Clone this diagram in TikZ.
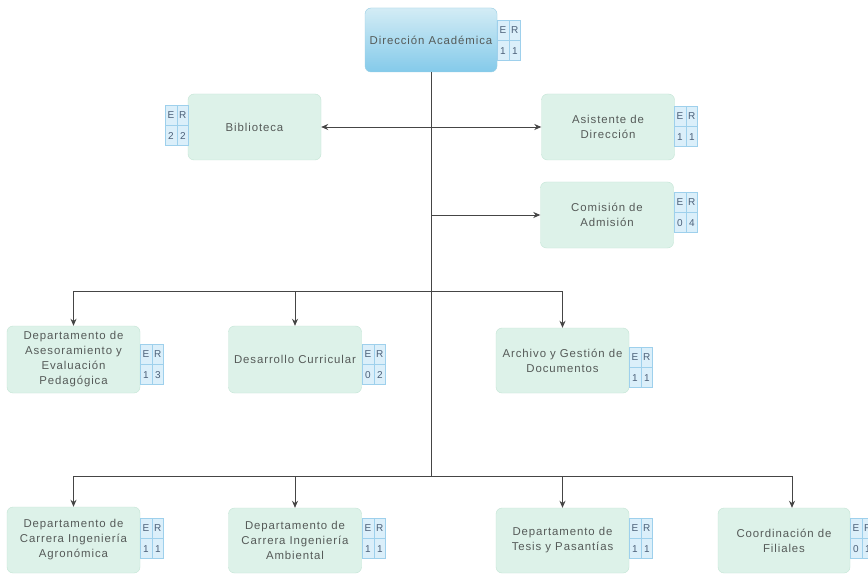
\documentclass[tikz,border=0pt]{standalone}
\usepackage{fontspec}
\setmainfont{Liberation Sans}
\usepackage{tikz}
\usetikzlibrary{arrows.meta}

\definecolor{boxfill}{HTML}{DDF2E9}
\definecolor{boxline}{HTML}{C3E5D5}
\definecolor{headtop}{HTML}{D3ECF5}
\definecolor{headbot}{HTML}{84CAEA}
\definecolor{headline}{HTML}{9CCFE6}
\definecolor{cellfill}{HTML}{DBEFFA}
\definecolor{cellline}{HTML}{9ED0EC}
\definecolor{celltxt}{HTML}{4C6079}
\definecolor{txtcol}{HTML}{555A58}
\definecolor{linecol}{HTML}{454545}

\newcommand{\boxfont}{\addfontfeature{LetterSpace=8}\fontsize{11.4}{15}\selectfont}
\newcommand{\cellfont}{\fontsize{10}{12}\selectfont}

\tikzset{
  unit/.style={draw=boxline, fill=boxfill, rounded corners=6pt, minimum width=133pt,
    minimum height=66pt, align=center, font=\boxfont, text=txtcol, inner sep=2pt},
  head/.style={unit, draw=headline, top color=headtop, bottom color=headbot},
  link/.style={draw=linecol, line width=0.8pt},
  arr/.style={link, -{Stealth[length=7pt,width=6pt]}},
  cell/.style={draw=cellline, fill=cellfill, minimum width=11.5pt, minimum height=20pt,
    inner sep=0pt, font=\cellfont, text=celltxt}
}

% E/R table: name, top left corner, E value, R value
\newcommand{\ertab}[4]{
  \node[cell, anchor=north west] (#1e) at #2 {E};
  \node[cell, anchor=north west] (#1r) at (#1e.north east) {R};
  \node[cell, anchor=north] (#1n) at (#1e.south) {#3};
  \node[cell, anchor=north] (#1m) at (#1r.south) {#4};
}

\begin{document}
\begin{tikzpicture}[x=1pt, y=-1pt]
% Set the size of the figure
\useasboundingbox[fill=white] (0,0) rectangle (868,575);

% Top level
\node[head, minimum width=132pt, minimum height=64pt] (dir) at (431,40) {Direcci\'on Acad\'emica};
\ertab{dirt}{(497,20)}{1}{1}

% Staff units
\node[unit] (bib) at (254.5,127) {Biblioteca};
\ertab{bibt}{(165,105)}{2}{2}
\node[unit] (asis) at (608,127) {Asistente de\\Direcci\'on};
\ertab{asist}{(674,106)}{1}{1}
\node[unit] (comi) at (607,215) {Comisi\'on de\\Admisi\'on};
\ertab{comit}{(674,192)}{0}{4}

% Second level
\node[unit, minimum height=67pt] (ases) at (73.5,359.5) {Departamento de\\Asesoramiento y\\Evaluaci\'on\\Pedag\'ogica};
\ertab{asest}{(140,344)}{1}{3}
\node[unit, minimum height=67pt] (desa) at (295,359.5) {Desarrollo Curricular};
\ertab{desat}{(362,344)}{0}{2}
\node[unit, minimum height=65pt] (arch) at (562.5,360.5) {Archivo y Gesti\'on de\\Documentos};
\ertab{archt}{(629,347)}{1}{1}

% Third level
\node[unit] (agro) at (73.5,540) {Departamento de\\Carrera Ingenier\'ia\\Agron\'omica};
\ertab{agrot}{(140,518)}{1}{1}
\node[unit, minimum height=65pt] (ambi) at (295,540.5) {Departamento de\\Carrera Ingenier\'ia\\Ambiental};
\ertab{ambit}{(362,518)}{1}{1}
\node[unit, minimum height=65pt] (tesi) at (562.5,540.5) {Departamento de\\Tesis y Pasant\'ias};
\ertab{tesit}{(629,518)}{1}{1}
\node[unit, minimum height=65pt, minimum width=132pt] (fili) at (784,540.5) {Coordinaci\'on de\\Filiales};
\ertab{filit}{(850,518)}{0}{1}

% Connectors
\coordinate (bus2) at (dir.south |- 0,291);
\coordinate (bus3) at (dir.south |- 0,476);
\draw[link] (dir.south) -- (bus3);
\draw[link, {Stealth[length=7pt,width=6pt]}-{Stealth[length=7pt,width=6pt]}] (bib.east) -- (asis.west);
\draw[arr] (comi.west -| dir.south) -- (comi.west);

\draw[link] (ases.north |- bus2) -- (arch.north |- bus2);
\foreach \n in {ases, desa, arch}
  \draw[arr] (\n.north |- bus2) -- (\n.north);

\draw[link] (agro.north |- bus3) -- ([xshift=8pt]fili.north |- bus3);
\foreach \n in {agro, ambi, tesi}
  \draw[arr] (\n.north |- bus3) -- (\n.north);
\draw[arr] ([xshift=8pt]fili.north |- bus3) -- ([xshift=8pt]fili.north);
\end{tikzpicture}
\end{document}
